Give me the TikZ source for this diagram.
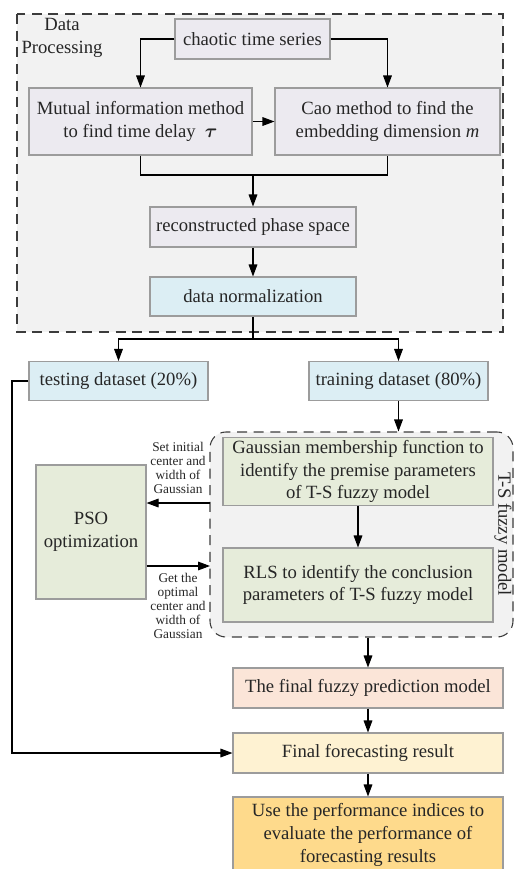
\documentclass[tikz,border=0pt]{standalone}
\usepackage{amsmath}
\usepackage{fontspec}
\setmainfont{Liberation Serif}
\usetikzlibrary{arrows.meta}

\definecolor{frame}{HTML}{3C3C3C}
\definecolor{edge}{HTML}{9C9C9C}
\definecolor{areagray}{HTML}{F2F2F2}
\definecolor{procgray}{HTML}{ECEAF0}
\definecolor{normblue}{HTML}{DCEEF4}
\definecolor{modelgreen}{HTML}{E6ECDA}
\definecolor{predpink}{HTML}{FBE5D8}
\definecolor{resyellow}{HTML}{FEF2D2}
\definecolor{evalgold}{HTML}{FEDA8C}
\newcommand\pix{*0.75pt}

\begin{document}
\begin{tikzpicture}[x=0.75pt, y=-0.75pt, >={Triangle[length=9pt,width=6.5pt]},
    box/.style={draw=edge, line width=0.8pt, align=center, inner sep=2pt,
        font=\fontsize{14}{17}\selectfont, text=black!85},
    area/.style={draw=frame, line width=0.8pt, dash pattern=on 7.5pt off 5pt},
    note/.style={align=center, font=\fontsize{10}{10.5}\selectfont, text=black!85},
    line/.style={line width=0.8pt}]
    \useasboundingbox (0,0) rectangle (515,869);

    % dashed regions
    \fill[areagray] (17,14) rectangle (503,332);
    \draw[area] (17,14) rectangle (503,332);
    \node[area, fill=areagray, rounded corners=12pt, minimum width=303\pix,
        minimum height=205\pix] (ts) at (361.5,534.5) {};
    \node[align=center, font=\fontsize{14}{17}\selectfont, text=black!85] (dplbl) at (62,38) {Data\\Processing};
    \node[rotate=-90, font=\fontsize{14}{17}\selectfont, text=black!85] (tslbl) at (503,534) {T-S fuzzy model};

    % data processing
    \node[box, fill=procgray, minimum width=155\pix, minimum height=40\pix] (chaos) at (252.5,39) {chaotic time series};
    \node[box, fill=procgray, minimum width=223\pix, minimum height=67\pix] (mutual) at (140.5,121.5)
        {Mutual information method\\to find time delay \ $\boldsymbol{\tau}$};
    \node[box, fill=procgray, minimum width=225\pix, minimum height=67\pix] (cao) at (387.5,121.5)
        {Cao method to find the\\embedding dimension \textit{m}};
    \node[box, fill=procgray, minimum width=206\pix, minimum height=40\pix] (recon) at (253,227) {reconstructed phase space};
    \node[box, fill=normblue, minimum width=206\pix, minimum height=39\pix] (norm) at (253,296.5) {data normalization};

    % datasets
    \node[box, fill=normblue, minimum width=179\pix, minimum height=39\pix] (test) at (118.5,381) {testing dataset (20\%)};
    \node[box, fill=normblue, minimum width=179\pix, minimum height=39\pix] (train) at (398.5,381) {training dataset (80\%)};

    % fuzzy model
    \node[box, fill=modelgreen, minimum width=270\pix, minimum height=63\pix] (gauss) at (358,471.5)
        {Gaussian membership function to\\identify the premise parameters\\of T-S fuzzy model};
    \node[box, fill=modelgreen, minimum width=270\pix, minimum height=74\pix] (rls) at (358,585)
        {RLS to identify the conclusion\\parameters of T-S fuzzy model};
    \node[box, fill=modelgreen, minimum width=110\pix, minimum height=134\pix] (pso) at (91,532) {PSO\\optimization};
    \node[note, anchor=south] (setlbl) at (178,498) {Set initial\\center and\\width of\\Gaussian};
    \node[note, anchor=north] (getlbl) at (178,569) {Get the\\optimal\\center and\\width of\\Gaussian};

    % results
    \node[box, fill=predpink, minimum width=270\pix, minimum height=40\pix] (pred) at (368,688) {The final fuzzy prediction model};
    \node[box, fill=resyellow, minimum width=270\pix, minimum height=40\pix] (fore) at (368,753) {Final forecasting result};
    \node[box, fill=evalgold, minimum width=270\pix, minimum height=76\pix] (eval) at (368,835)
        {Use the performance indices to\\evaluate the performance of\\forecasting results};

    % connectors
    \coordinate (join) at (253,175);
    \coordinate (split) at (253,339);
    \coordinate (back) at (12,381);
    \coordinate (seta) at (210,503);
    \coordinate (getb) at (210,566);

    \draw[line, ->] (chaos.west) -| (mutual.north);
    \draw[line, ->] (chaos.east) -| (cao.north);
    \draw[line, ->] (mutual.east) -- (cao.west);
    \draw[line] (mutual.south) |- (join) -| (cao.south);
    \draw[line, ->] (join) -- (recon.north);
    \draw[line, ->] (recon.south) -- (norm.north);
    \draw[line] (norm.south) -- (split);
    \draw[line, ->] (split) -| (test.north);
    \draw[line, ->] (split) -| (train.north);
    \draw[line, ->] (train.south) -- (train.south |- ts.north);
    \draw[line, ->] (gauss.south) -- (rls.north);
    \draw[line, ->] (seta) -- (seta -| pso.east);
    \draw[line, ->] (getb -| pso.east) -- (getb);
    \draw[line, ->] (pred.north |- ts.south) -- (pred.north);
    \draw[line, ->] (pred.south) -- (fore.north);
    \draw[line, ->] (fore.south) -- (eval.north);
    \draw[line, ->] (test.west) -- (back) |- (fore.west);
\end{tikzpicture}
\end{document}
